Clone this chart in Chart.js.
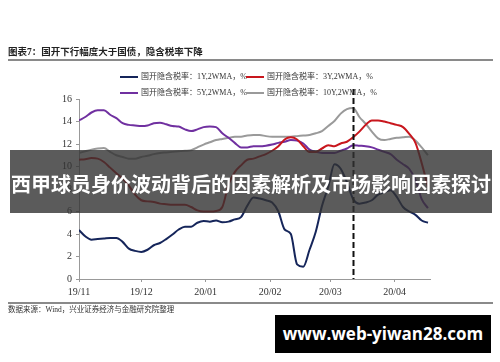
<!DOCTYPE html>
<html>
<head>
<meta charset="utf-8">
<script src="https://cdn.jsdelivr.net/npm/chart.js@4.4.0/dist/chart.umd.min.js"></script>
<style>
  body { margin: 0; background: #fff; }
  #wrap { position: relative; width: 500px; height: 362px; overflow: hidden; background: #fff;
          font-family: "Liberation Serif", "Noto Sans CJK SC", serif; color: #222; }
  #chart { position: absolute; left: 0; top: 0; }
  .title { position: absolute; left: 8px; top: 46px; font-size: 9.5px; font-weight: bold; line-height: 12px; white-space: nowrap; }
  .rule { position: absolute; left: 8px; width: 485px; height: 2px; background: #8a8a8a; }
  .leg { position: absolute; font-size: 8px; line-height: 10px; white-space: nowrap; color: #333; z-index: 2; }
  .leg i { position: absolute; left: 0; top: 4px; height: 2px; width: 18px; }
  .leg span { position: absolute; left: 21px; top: 0; }
  .source { position: absolute; left: 8px; top: 305px; font-size: 7.5px; line-height: 9px; color: #333; white-space: nowrap; }
  .banner { position: absolute; left: 10px; top: 150px; width: 482px; height: 63px; background: rgba(50,50,50,0.8); z-index: 3; }
  #bannerText { position: absolute; left: 50%; top: 34px; transform: translate(-50%, -50%); white-space: nowrap;
                color: #fff; font-family: "Noto Sans CJK SC", sans-serif; font-weight: bold; font-size: 20px; line-height: 1; }
  .mark { position: absolute; left: 275px; top: 315px; width: 216px; height: 38px; background: #000; color: #fff;
          font-family: "Open Sans", sans-serif; font-weight: bold; font-size: 17px; line-height: 38px; text-align: center; z-index: 3; }
</style>
</head>
<body>
<div id="wrap">
  <canvas id="chart" width="500" height="362"></canvas>
  <div class="title">图表7：国开下行幅度大于国债，隐含税率下降</div>
  <div class="rule" style="top:59px"></div>
  <div id="legend"></div>
  <div class="rule" style="top:302px"></div>
  <div class="source">数据来源：Wind，兴业证券经济与金融研究院整理</div>
  <div class="banner"><span id="bannerText">西甲球员身价波动背后的因素解析及市场影响因素探讨</span></div>
  <div class="mark">www.web-yiwan28.com</div>
</div>
<script>
// days since 2019-11-01, sampled every 3 days
const days = [0,3,6,9,12,15,18,21,24,27,30,33,36,39,42,45,48,51,54,57,60,63,66,69,72,75,78,81,84,87,90,93,96,99,102,105,108,111,114,117,120,123,126,129,132,135,138,141,144,147,150,153,156,159,162,165,168];

const rate1Y = [4.35,3.8,3.5,3.55,3.6,3.65,3.65,3.3,2.7,2.5,2.4,2.6,3.0,3.2,3.55,3.95,4.4,4.65,4.65,5.0,5.15,5.1,5.2,5.05,5.1,5.3,5.5,6.5,7.25,7.15,7.0,6.8,6.0,4.4,4.0,1.3,1.1,2.6,4.2,6.5,8.2,10.2,9.8,8.6,7.1,6.7,6.8,7.0,7.5,7.7,7.9,7.3,6.4,6.0,5.7,5.2,5.0];
const rate3Y = [10.6,10.65,10.75,10.7,10.4,9.9,9.4,8.9,8.3,7.5,7.0,6.9,6.85,6.7,6.65,6.6,6.6,6.6,6.4,6.1,6.0,6.0,6.05,6.4,8.4,9.5,10.1,10.6,10.7,10.9,11.1,11.4,11.8,12.4,12.6,12.4,11.8,11.3,11.3,11.6,11.9,11.8,12.05,12.2,12.6,13.1,13.7,14.1,14.1,14.0,13.85,13.7,13.5,12.9,12.1,10.3,8.2];
const rate5Y = [14.1,14.4,14.8,15.0,15.0,14.6,14.3,13.85,13.7,13.65,13.6,13.65,13.85,13.9,13.75,13.6,13.55,13.3,13.15,13.3,13.5,13.55,13.5,12.95,12.55,12.1,11.7,11.7,11.8,11.8,11.85,11.95,12.1,12.2,12.35,12.3,12.05,11.5,11.3,11.2,11.2,11.2,11.4,11.6,11.9,11.85,11.8,11.7,11.5,11.3,11.1,10.6,10.2,9.8,8.8,7.1,6.3];
const rate10Y = [11.2,11.35,11.5,11.6,11.65,11.3,11.0,10.85,10.7,10.7,10.85,10.95,11.1,11.2,11.25,11.3,11.35,11.4,11.45,11.7,11.95,12.15,12.35,12.45,12.55,12.65,12.65,12.75,12.8,12.8,12.7,12.65,12.65,12.65,12.65,12.7,12.75,12.8,12.95,13.15,13.6,14.05,14.7,15.1,15.2,14.4,13.8,13.1,12.5,12.35,12.45,12.55,12.6,12.65,12.3,11.7,11.0];

const seriesNames = ['国开隐含税率：1Y,2WMA，%', '国开隐含税率：3Y,2WMA，%', '国开隐含税率：5Y,2WMA，%', '国开隐含税率：10Y,2WMA，%'];
const seriesColors = ['#15255a', '#c8161d', '#7030a0', '#9a9a9a'];

const monthDays = [0, 30, 61, 92, 121, 152];
const monthLabels = ['19/11', '19/12', '20/01', '20/02', '20/03', '20/04'];
const eventDay = 132;

// banner text should span about 480px, shrink the font until it does
const bannerText = document.getElementById('bannerText');
const w = bannerText.getBoundingClientRect().width;
if (w > 0) bannerText.style.fontSize = (20 * 480 / w).toFixed(2) + 'px';

// legend, two columns
const legendPos = [[120, 72], [246, 72], [120, 88], [246, 88]];
const legendBox = document.getElementById('legend');
seriesNames.forEach((name, i) => {
  const el = document.createElement('div');
  el.className = 'leg';
  el.style.left = legendPos[i][0] + 'px';
  el.style.top = legendPos[i][1] + 'px';
  el.innerHTML = `<i style="background:${seriesColors[i]}"></i><span>${name}</span>`;
  legendBox.appendChild(el);
});

const eventLine = {
  id: 'eventLine',
  afterDatasetsDraw(chart) {
    const { ctx, chartArea, scales } = chart;
    const x = Math.round(scales.x.getPixelForValue(eventDay)) + 0.5;
    ctx.save();
    ctx.strokeStyle = '#111';
    ctx.lineWidth = 2;
    ctx.setLineDash([6, 3]);
    ctx.beginPath();
    ctx.moveTo(x, chartArea.top - 10);
    ctx.lineTo(x, chartArea.bottom);
    ctx.stroke();
    ctx.restore();
  }
};

const allSeries = [rate1Y, rate3Y, rate5Y, rate10Y];
const tickFont = { family: '"Liberation Serif", serif', size: 10 };

new Chart(document.getElementById('chart').getContext('2d'), {
  type: 'line',
  data: {
    datasets: allSeries.map((vals, i) => ({
      label: seriesNames[i],
      data: days.map((d, j) => ({ x: d, y: vals[j] })),
      borderColor: seriesColors[i],
      borderWidth: 2,
      pointRadius: 0,
      fill: false,
      cubicInterpolationMode: 'monotone'
    }))
  },
  options: {
    responsive: false,
    animation: false,
    layout: { padding: { top: 99, right: 70, bottom: 63, left: 0 } },
    plugins: { legend: { display: false }, tooltip: { enabled: false } },
    scales: {
      x: {
        type: 'linear',
        min: 0,
        max: 169,
        afterBuildTicks: (scale) => { scale.ticks = monthDays.map(v => ({ value: v })); },
        afterFit: (scale) => { scale.height = 20; },
        ticks: {
          autoSkip: false,
          maxRotation: 0,
          padding: 4,
          color: '#333',
          font: tickFont,
          callback: (value, index) => monthLabels[index]
        },
        grid: { drawOnChartArea: false, tickLength: 3, color: '#999' },
        border: { color: '#999' }
      },
      y: {
        min: 0,
        max: 16,
        afterFit: (scale) => { scale.width = 79; },
        ticks: { stepSize: 2, padding: 4, color: '#333', font: tickFont },
        grid: { drawOnChartArea: false, tickLength: 3, color: '#999' },
        border: { color: '#999' }
      }
    }
  },
  plugins: [eventLine]
});
</script>
</body>
</html>
